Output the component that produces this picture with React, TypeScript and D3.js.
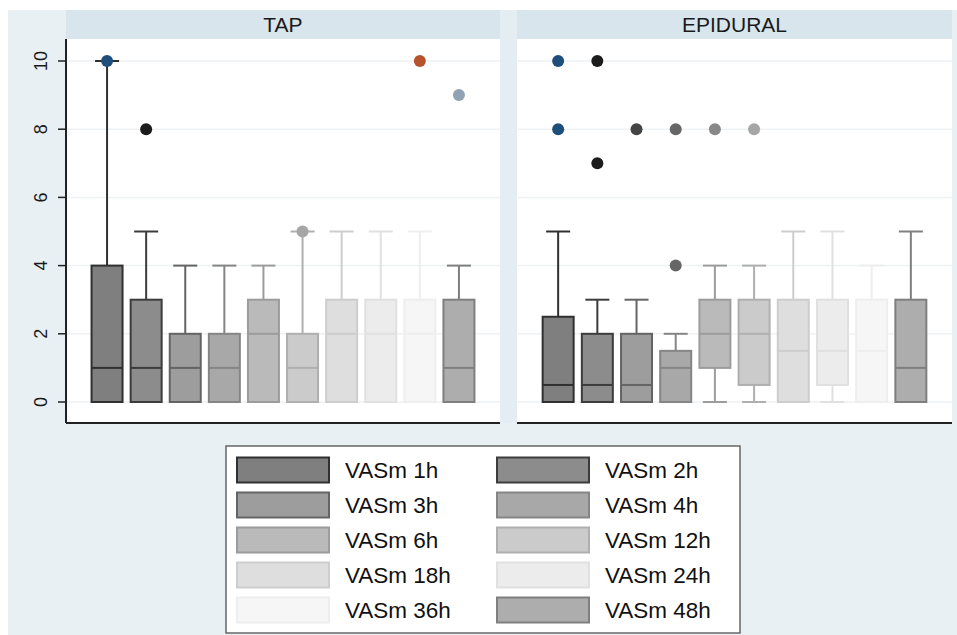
import React from "react";
import * as d3 from "d3";

const categories = ["VASm 1h", "VASm 2h", "VASm 3h", "VASm 4h", "VASm 6h", "VASm 12h", "VASm 18h", "VASm 24h", "VASm 36h", "VASm 48h"];
const panels = ["TAP", "EPIDURAL"];
const yTicks = [0, 2, 4, 6, 8, 10];

// TAP
const tapLow = [0, 0, 0, 0, 0, 0, 0, 0, 0, 0];
const tapQ1 = [0, 0, 0, 0, 0, 0, 0, 0, 0, 0];
const tapMedian = [1, 1, 1, 1, 2, 1, 2, 2, 2, 1];
const tapQ3 = [4, 3, 2, 2, 3, 2, 3, 3, 3, 3];
const tapHigh = [10, 5, 4, 4, 4, 5, 5, 5, 5, 4];
const tapOutliers = [[10], [8], [], [], [], [5], [], [], [10], [9]];

// EPIDURAL
const epiLow = [0, 0, 0, 0, 0, 0, 0, 0, 0, 0];
const epiQ1 = [0, 0, 0, 0, 1, 0.5, 0, 0.5, 0, 0];
const epiMedian = [0.5, 0.5, 0.5, 1, 2, 2, 1.5, 1.5, 1.5, 1];
const epiQ3 = [2.5, 2, 2, 1.5, 3, 3, 3, 3, 3, 3];
const epiHigh = [5, 3, 3, 2, 4, 4, 5, 5, 4, 5];
const epiOutliers = [[10, 8], [10, 7], [8], [8, 4], [8], [8], [], [], [], []];

const boxFills = ["#7f7f7f", "#8c8c8c", "#9d9d9d", "#a8a8a8", "#bababa", "#cbcbcb", "#dedede", "#ececec", "#f6f6f6", "#adadad"];
const boxStrokes = ["#303030", "#3c3c3c", "#646464", "#858585", "#9c9c9c", "#afafaf", "#cdcdcd", "#e0e0e0", "#eeeeee", "#7f7f7f"];
const markerColors = ["#1f4e7a", "#1c1c1c", "#444444", "#666666", "#888888", "#a6a6a6", "#c0c0c0", "#d0d0d0", "#b5532d", "#8fa3b4"];

const W = 957;
const H = 635;
const plotTop = 39;
const plotBottom = 423;
const panelX = [[66, 500], [517, 952]];

const y = d3.scaleLinear().domain([0, 10]).range([402, 61]);

function Panel({ idx, low, q1, med, q3, high, outl }) {
  const [x0, x1] = panelX[idx];
  const x = d3.scalePoint().domain(categories).range([x0, x1]).padding(1.05);
  const bw = 31;
  const cw = 24;
  return (
    <g>
      <rect x={x0} y={10} width={x1 - x0} height={plotTop - 10} fill="#d8e5ec" />
      <text x={(x0 + x1) / 2} y={32} textAnchor="middle" fontSize={21} fill="#1a1a1a" fontFamily="Liberation Sans, Arial, sans-serif">{panels[idx]}</text>
      <rect x={x0} y={plotTop} width={x1 - x0} height={plotBottom - plotTop} fill="#ffffff" />
      {yTicks.map((t) => (
        <line key={t} x1={x0} x2={x1} y1={y(t)} y2={y(t)} stroke="#eef2f4" strokeWidth={1.5} />
      ))}
      {categories.map((c, i) => {
        const cx = x(c);
        const s = boxStrokes[i];
        return (
          <g key={c}>
            {high[i] > q3[i] && (
              <>
                <line x1={cx} x2={cx} y1={y(q3[i])} y2={y(high[i])} stroke={s} strokeWidth={2} />
                <line x1={cx - cw / 2} x2={cx + cw / 2} y1={y(high[i])} y2={y(high[i])} stroke={s} strokeWidth={2} />
              </>
            )}
            {low[i] < q1[i] && (
              <>
                <line x1={cx} x2={cx} y1={y(q1[i])} y2={y(low[i])} stroke={s} strokeWidth={2} />
                <line x1={cx - cw / 2} x2={cx + cw / 2} y1={y(low[i])} y2={y(low[i])} stroke={s} strokeWidth={2} />
              </>
            )}
            <rect x={cx - bw / 2} y={y(q3[i])} width={bw} height={y(q1[i]) - y(q3[i])} fill={boxFills[i]} stroke={s} strokeWidth={2} />
            <line x1={cx - bw / 2} x2={cx + bw / 2} y1={y(med[i])} y2={y(med[i])} stroke={s} strokeWidth={2} />
            {outl[i].map((v, k) => (
              <circle key={k} cx={cx} cy={y(v)} r={6} fill={markerColors[i]} />
            ))}
          </g>
        );
      })}
      <line x1={x0} x2={x1} y1={plotBottom} y2={plotBottom} stroke="#222" strokeWidth={2} />
    </g>
  );
}

export default function App() {
  const legRows = [0, 1, 2, 3, 4];
  return (
    <svg width={W} height={H} style={{ position: "absolute", left: 0, top: 0 }} fontFamily="Liberation Sans, Arial, sans-serif">
      <rect x={0} y={0} width={W} height={H} fill="#ffffff" />
      <rect x={8} y={10} width={W - 8} height={H - 10} fill="#e9f0f3" />
      <rect x={500} y={10} width={17} height={plotBottom - 10} fill="#e4eef2" />
      <Panel idx={0} low={tapLow} q1={tapQ1} med={tapMedian} q3={tapQ3} high={tapHigh} outl={tapOutliers} />
      <Panel idx={1} low={epiLow} q1={epiQ1} med={epiMedian} q3={epiQ3} high={epiHigh} outl={epiOutliers} />
      <line x1={66} x2={66} y1={plotTop} y2={plotBottom} stroke="#222" strokeWidth={2} />
      {yTicks.map((t) => (
        <g key={t}>
          <line x1={58} x2={66} y1={y(t)} y2={y(t)} stroke="#222" strokeWidth={1.5} />
          <text transform={`translate(47,${y(t)}) rotate(-90)`} textAnchor="middle" fontSize={18} fill="#1a1a1a">{t}</text>
        </g>
      ))}
      <rect x={226} y={446} width={514} height={187} fill="#ffffff" stroke="#666" strokeWidth={1.5} />
      {categories.map((c, i) => {
        const col = i % 2;
        const row = Math.floor(i / 2);
        const sx = col === 0 ? 237 : 497;
        const tx = col === 0 ? 345 : 605;
        const cy = 470 + legRows[row] * 35;
        return (
          <g key={c}>
            <rect x={sx} y={cy - 12.5} width={92} height={25} fill={boxFills[i]} stroke={boxStrokes[i]} strokeWidth={2} />
            <text x={tx} y={cy + 8} fontSize={22.5} fill="#111">{c}</text>
          </g>
        );
      })}
    </svg>
  );
}
